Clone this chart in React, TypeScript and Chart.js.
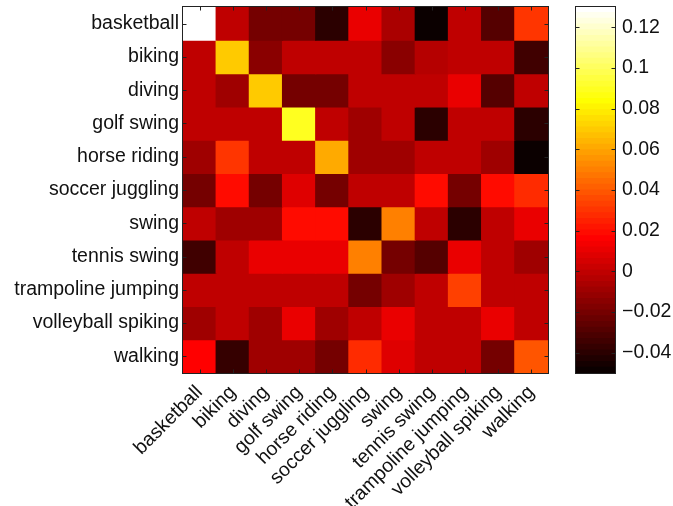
import React, { useEffect, useRef } from "react";
import { Chart, registerables } from "chart.js";
Chart.register(...registerables);

// ---- data ----
const LABELS = [
  "basketball",
  "biking",
  "diving",
  "golf swing",
  "horse riding",
  "soccer juggling",
  "swing",
  "tennis swing",
  "trampoline jumping",
  "volleyball spiking",
  "walking",
];

const basketball = [0.13, -0.001, -0.02, -0.02, -0.04, 0.01, -0.006, -0.048, -0.001, -0.029, 0.03];
const biking = [-0.001, 0.069, -0.015, -0.001, -0.001, -0.001, -0.015, -0.004, -0.001, -0.001, -0.034];
const diving = [-0.001, -0.009, 0.069, -0.02, -0.02, -0.001, -0.001, -0.001, 0.01, -0.029, -0.001];
const golfSwing = [-0.001, -0.001, -0.001, 0.088, -0.001, -0.009, -0.001, -0.04, -0.001, -0.001, -0.04];
const horseRiding = [-0.009, 0.03, -0.001, -0.001, 0.061, -0.009, -0.009, -0.001, -0.001, -0.009, -0.048];
const soccerJuggling = [-0.02, 0.019, -0.02, 0.008, -0.02, -0.001, -0.001, 0.019, -0.02, 0.019, 0.027];
const swing = [-0.001, -0.009, -0.009, 0.019, 0.019, -0.04, 0.05, -0.001, -0.04, -0.001, 0.01];
const tennisSwing = [-0.034, -0.001, 0.01, 0.01, 0.01, 0.05, -0.02, -0.029, 0.01, -0.001, -0.009];
const trampolineJumping = [-0.001, -0.001, -0.001, -0.001, -0.001, -0.02, -0.009, -0.001, 0.033, -0.001, -0.001];
const volleyballSpiking = [-0.009, -0.001, -0.009, 0.01, -0.009, -0.001, 0.01, -0.001, -0.001, 0.01, -0.001];
const walking = [0.016, -0.037, -0.009, -0.009, -0.02, 0.027, 0.008, -0.001, -0.001, -0.02, 0.039];

const ROWS = [
  basketball,
  biking,
  diving,
  golfSwing,
  horseRiding,
  soccerJuggling,
  swing,
  tennisSwing,
  trampolineJumping,
  volleyballSpiking,
  walking,
];

const CMIN = -0.05;
const CMAX = 0.13;
const CBAR_TICKS = [-0.04, -0.02, 0, 0.02, 0.04, 0.06, 0.08, 0.1, 0.12];
const NLEVELS = 64;

// MATLAB "hot" colormap, 64 levels
function hot(k: number): string {
  // k: 1..64
  const r = k <= 24 ? k / 24 : 1;
  const g = k <= 24 ? 0 : k <= 48 ? (k - 24) / 24 : 1;
  const b = k <= 48 ? 0 : (k - 48) / 16;
  return `rgb(${Math.round(r * 255)},${Math.round(g * 255)},${Math.round(b * 255)})`;
}
function colorFor(v: number): string {
  let k = Math.floor(((v - CMIN) / (CMAX - CMIN)) * NLEVELS) + 1;
  if (k < 1) k = 1;
  if (k > NLEVELS) k = NLEVELS;
  return hot(k);
}

const FONT = { family: "'Liberation Sans', Arial, Helvetica, sans-serif", size: 19.5 };
const INK = "#111";

const framePlugin = {
  id: "frame",
  afterDatasetsDraw(chart: any, _args: any, opts: any) {
    const { ctx, chartArea: a, scales } = chart;
    const tl = 4;
    ctx.save();
    ctx.strokeStyle = "#222";
    ctx.lineWidth = 1;
    const L = Math.round(a.left) - 0.5;
    const T = Math.round(a.top) - 0.5;
    const R = Math.round(a.right) + 0.5;
    const B = Math.round(a.bottom) + 0.5;
    ctx.beginPath();
    if (opts && opts.xTicks) {
      scales.x.ticks.forEach((_t: any, i: number) => {
        const x = Math.round(scales.x.getPixelForTick(i)) + 0.5;
        ctx.moveTo(x, T);
        ctx.lineTo(x, T + tl);
        ctx.moveTo(x, B);
        ctx.lineTo(x, B - tl);
      });
    }
    scales.y.ticks.forEach((t: any) => {
      const y = Math.round(scales.y.getPixelForValue(t.value)) + 0.5;
      ctx.moveTo(L, y);
      ctx.lineTo(L + tl, y);
      ctx.moveTo(R, y);
      ctx.lineTo(R - tl, y);
    });
    ctx.stroke();
    ctx.strokeRect(L, T, R - L, B - T);
    ctx.restore();
  },
};

export default function App() {
  const heatRef = useRef<HTMLCanvasElement | null>(null);
  const barRef = useRef<HTMLCanvasElement | null>(null);

  useEffect(() => {
    const n = LABELS.length;
    const heat = new Chart(heatRef.current as HTMLCanvasElement, {
      type: "bar",
      data: {
        labels: LABELS,
        datasets: ROWS.map((vals, r) => ({
          data: vals.map(() => [n - 1 - r, n - r]),
          backgroundColor: vals.map(colorFor),
          borderWidth: 0,
          barPercentage: 1,
          categoryPercentage: 1,
          grouped: false,
          inflateAmount: 0.6,
        })) as any,
      },
      plugins: [framePlugin],
      options: {
        responsive: false,
        animation: false,
        layout: { padding: { top: 7, right: 12, left: 0, bottom: 0 } },
        plugins: {
          legend: { display: false },
          tooltip: { enabled: false },
          frame: { xTicks: true },
        } as any,
        scales: {
          x: {
            type: "category",
            grid: { display: false, drawTicks: false },
            border: { display: false },
            ticks: {
              autoSkip: false,
              minRotation: 45,
              maxRotation: 45,
              padding: 8,
              color: INK,
              font: FONT,
            },
            afterFit(scale: any) {
              scale.height = 133;
              scale.paddingLeft = 0;
              scale.paddingRight = 0;
            },
          },
          y: {
            type: "linear",
            min: 0,
            max: n,
            grid: { display: false, drawTicks: false },
            border: { display: false },
            afterBuildTicks(scale: any) {
              scale.ticks = LABELS.map((_l, i) => ({ value: i + 0.5 }));
            },
            ticks: {
              padding: 4,
              color: INK,
              font: FONT,
              callback: (v: any) => LABELS[n - 1 - Math.floor(Number(v))],
            },
            afterFit(scale: any) {
              scale.width = 183;
              scale.paddingTop = 0;
              scale.paddingBottom = 0;
            },
          },
        },
      },
    });

    const edges: number[] = [];
    for (let k = 0; k <= NLEVELS; k++) edges.push(CMIN + ((CMAX - CMIN) * k) / NLEVELS);
    const bar = new Chart(barRef.current as HTMLCanvasElement, {
      type: "bar",
      data: {
        labels: [""],
        datasets: edges.slice(0, NLEVELS).map((e, k) => ({
          data: [[e, edges[k + 1]]],
          backgroundColor: hot(k + 1),
          borderWidth: 0,
          barPercentage: 1,
          categoryPercentage: 1,
          grouped: false,
          inflateAmount: 0.6,
        })) as any,
      },
      plugins: [framePlugin],
      options: {
        responsive: false,
        animation: false,
        layout: { padding: { top: 7, right: 0, left: 16, bottom: 133 } },
        plugins: {
          legend: { display: false },
          tooltip: { enabled: false },
          frame: { xTicks: false },
        } as any,
        scales: {
          x: { type: "category", display: false },
          y: {
            type: "linear",
            position: "right",
            min: CMIN,
            max: CMAX,
            grid: { display: false, drawTicks: false },
            border: { display: false },
            afterBuildTicks(scale: any) {
              scale.ticks = CBAR_TICKS.map((v) => ({ value: v }));
            },
            ticks: {
              padding: 7,
              color: INK,
              font: FONT,
              callback: (v: any) => {
                const num = Math.round(Number(v) * 100) / 100;
                if (num === 0) return "0";
                const s = String(Math.abs(num));
                return num < 0 ? "\u2212" + s : s;
              },
            },
            afterFit(scale: any) {
              scale.width = 58;
              scale.paddingTop = 0;
              scale.paddingBottom = 0;
            },
          },
        },
      },
    });

    return () => {
      heat.destroy();
      bar.destroy();
    };
  }, []);

  return (
    <div style={{ position: "fixed", left: 0, top: 0, width: 673, height: 506, background: "#fff" }}>
      <div style={{ position: "absolute", left: 0, top: 0, width: 560, height: 506 }}>
        <canvas ref={heatRef} width={560} height={506} style={{ width: 560, height: 506 }} />
      </div>
      <div style={{ position: "absolute", left: 560, top: 0, width: 113, height: 506 }}>
        <canvas ref={barRef} width={113} height={506} style={{ width: 113, height: 506 }} />
      </div>
    </div>
  );
}
